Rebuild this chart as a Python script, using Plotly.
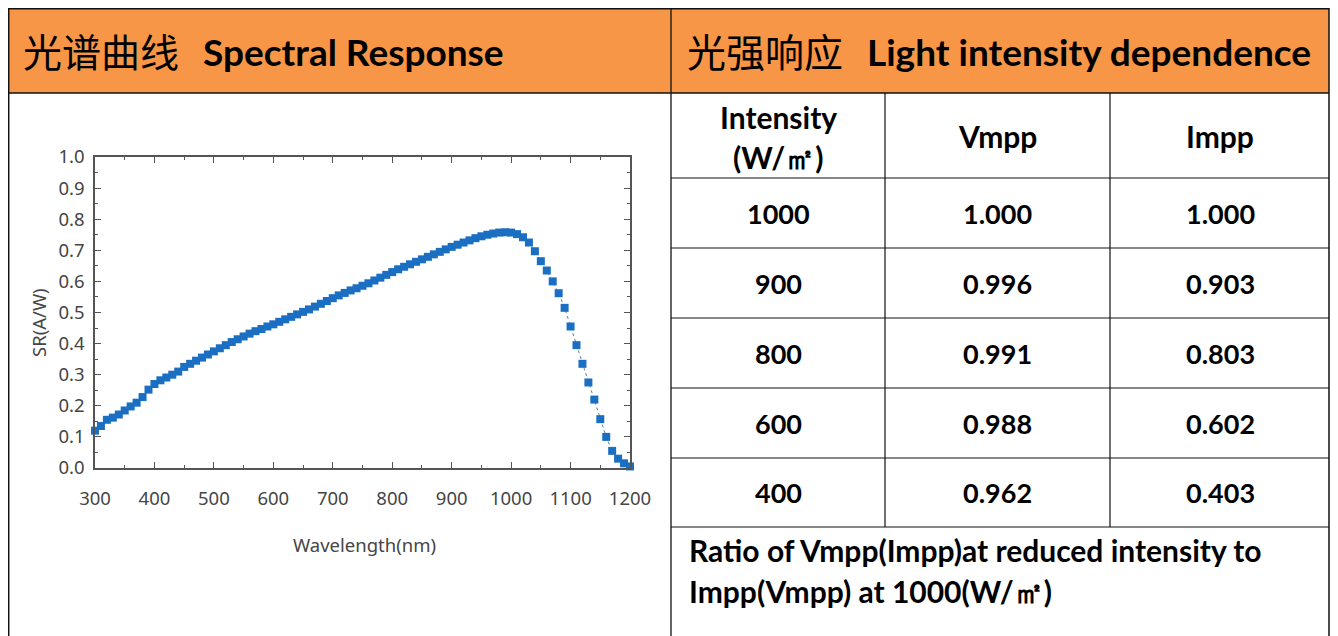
import plotly.graph_objects as go

# page is shown with an 8px body margin; the figure covers page pixels 8..1330 x 8..636
OFF = 8
W, H = 1330 - OFF, 636 - OFF

# ---------------- data ----------------
wavelength_nm = [300, 310, 320, 330, 340, 350, 360, 370, 380, 390,
                 400, 410, 420, 430, 440, 450, 460, 470, 480, 490,
                 500, 510, 520, 530, 540, 550, 560, 570, 580, 590,
                 600, 610, 620, 630, 640, 650, 660, 670, 680, 690,
                 700, 710, 720, 730, 740, 750, 760, 770, 780, 790,
                 800, 810, 820, 830, 840, 850, 860, 870, 880, 890,
                 900, 910, 920, 930, 940, 950, 960, 970, 980, 990,
                 1000, 1010, 1020, 1030, 1040, 1050, 1060, 1070, 1080, 1090,
                 1100, 1110, 1120, 1130, 1140, 1150, 1160, 1170, 1180, 1190,
                 1200]
sr_aw = [0.120, 0.135, 0.155, 0.162, 0.172, 0.185, 0.198, 0.210, 0.228, 0.252,
         0.270, 0.282, 0.291, 0.300, 0.310, 0.325, 0.335, 0.345, 0.355, 0.365,
         0.375, 0.385, 0.395, 0.405, 0.414, 0.423, 0.432, 0.440, 0.447, 0.455,
         0.462, 0.470, 0.478, 0.486, 0.494, 0.502, 0.510, 0.519, 0.528, 0.537,
         0.546, 0.555, 0.563, 0.571, 0.578, 0.586, 0.594, 0.603, 0.612, 0.621,
         0.630, 0.639, 0.647, 0.655, 0.663, 0.671, 0.679, 0.687, 0.695, 0.703,
         0.711, 0.718, 0.725, 0.732, 0.739, 0.745, 0.750, 0.754, 0.757, 0.758,
         0.757, 0.752, 0.742, 0.725, 0.697, 0.665, 0.635, 0.600, 0.562, 0.515,
         0.455, 0.395, 0.335, 0.275, 0.220, 0.157, 0.100, 0.055, 0.030, 0.015,
         0.005]

x_ticks = [300, 400, 500, 600, 700, 800, 900, 1000, 1100, 1200]
y_ticks = [0.0, 0.1, 0.2, 0.3, 0.4, 0.5, 0.6, 0.7, 0.8, 0.9, 1.0]

intensity = ["1000", "900", "800", "600", "400"]
vmpp = ["1.000", "0.996", "0.991", "0.988", "0.962"]
impp = ["1.000", "0.903", "0.803", "0.602", "0.403"]
table_header = ["Intensity", "Vmpp", "Impp"]
intensity_unit = "(W/㎡)"
note_lines = ["Ratio of Vmpp(Impp)at reduced intensity to",
              "Impp(Vmpp) at 1000(W/㎡)"]

left_title_cn, left_title_en = "光谱曲线", "Spectral Response"
right_title_cn, right_title_en = "光强响应", "Light intensity dependence"


def fx(x):
    return (x - OFF) / W


def fy(y):
    return 1 - (y - OFF) / H


# ---------------- figure ----------------
fig = go.Figure()

fig.add_trace(go.Scatter(
    x=wavelength_nm, y=sr_aw, mode="lines+markers",
    marker=dict(symbol="square", size=8, color="#1a6fc2"),
    line=dict(color="#5b7fa6", width=1, dash="dot"),
    cliponaxis=False, showlegend=False, hoverinfo="x+y",
))

grey = "#555555"
tickfont = dict(family="Noto Sans, sans-serif", size=18.5, color="#454545")

fig.update_layout(
    width=W, height=H, autosize=False,
    margin=dict(l=0, r=0, t=0, b=0, pad=0),
    paper_bgcolor="white", plot_bgcolor="white",
    xaxis=dict(
        domain=[fx(95), fx(630)], range=[300, 1200], automargin=False,
        tickvals=x_ticks, ticks="inside", ticklen=6, tickwidth=1.3, tickcolor=grey,
        minor=dict(dtick=50, ticks="inside", ticklen=3, tickcolor=grey, tickwidth=1),
        showline=True, linecolor=grey, linewidth=1.5, mirror="allticks",
        showgrid=False, zeroline=False, tickfont=tickfont, ticklabelstandoff=13,
    ),
    yaxis=dict(
        domain=[fy(468), fy(157)], range=[0, 1], automargin=False,
        tickvals=y_ticks, tickformat=".1f", ticks="inside", ticklen=6, tickwidth=1.3,
        tickcolor=grey,
        minor=dict(dtick=0.05, ticks="inside", ticklen=3, tickcolor=grey, tickwidth=1),
        showline=True, linecolor=grey, linewidth=1.5, mirror="allticks",
        showgrid=False, zeroline=False, tickfont=tickfont, ticklabelstandoff=5,
    ),
)

RIGHT = 1329
shapes = []
# orange header band
shapes.append(dict(type="rect", xref="paper", yref="paper",
                   x0=fx(8), x1=fx(RIGHT), y0=fy(93), y1=fy(8),
                   fillcolor="#F79646", line=dict(width=0), layer="below"))


def line(x0, y0, x1, y1, w=1.2, c="#111111"):
    shapes.append(dict(type="line", xref="paper", yref="paper",
                       x0=fx(x0), y0=fy(y0), x1=fx(x1), y1=fy(y1),
                       line=dict(color=c, width=w)))


line(8, 8.7, RIGHT, 8.7, 1.5)
line(8, 93, RIGHT, 93, 1.5)
line(8.7, 8, 8.7, 636, 1.5)
line(RIGHT, 8, RIGHT, 636, 1.5)
line(671, 8, 671, 636, 1.3)
for yy in [178, 248, 318, 388, 458, 527]:
    line(671, yy, RIGHT, yy, 1.2)
for xx in [885, 1110]:
    line(xx, 93, xx, 527, 1.2)

annotations = []
cn_font = dict(family="Noto Sans CJK SC", size=39, color="#000000")
en_font = dict(family="Lato", size=37, color="#000000", weight="bold")


def ann(text, x, y, font, xanchor="center", **kw):
    annotations.append(dict(text=text, x=fx(x), y=fy(y), xref="paper", yref="paper",
                            xanchor=xanchor, yanchor="middle", showarrow=False,
                            font=font, **kw))


ann(left_title_cn, 21, 50, cn_font, "left")
ann(left_title_en, 201, 51, en_font, "left")
ann(right_title_cn, 685, 50, cn_font, "left")
ann(right_title_en, 865, 51, en_font, "left")

text_font = dict(family="Lato", size=30, color="#000000", weight="bold")
num_font = dict(family="Lato", size=27, color="#000000", weight="bold")
col_centers = [778, 997, 1220]
row_centers = [213, 283, 353, 423, 492]
ann(table_header[0], col_centers[0], 117, text_font)
ann(intensity_unit, col_centers[0], 157, text_font)
ann(table_header[1], col_centers[1], 136, text_font)
ann(table_header[2], col_centers[2], 136, text_font)
for col, vals in zip(col_centers, [intensity, vmpp, impp]):
    for yc, v in zip(row_centers, vals):
        ann(v, col, yc, num_font)
for yc, t in zip([550, 591], note_lines):
    ann(t, 687, yc, text_font, "left")

axis_title_font = dict(family="Noto Sans, sans-serif", size=18.5, color="#454545")
ann("Wavelength(nm)", 365, 544, axis_title_font)
ann("SR(A/W)", 38, 323, axis_title_font, textangle=-90)

fig.update_layout(shapes=shapes, annotations=annotations)
fig.write_html("out.html")
